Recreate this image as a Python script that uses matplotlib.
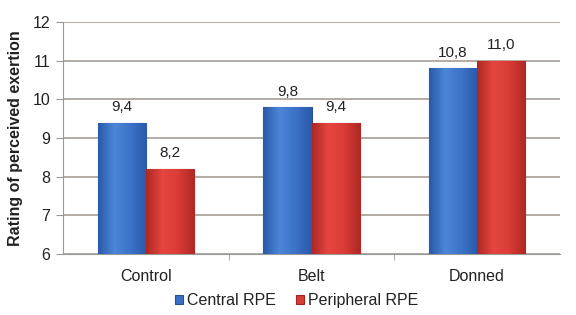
import matplotlib.pyplot as plt
import numpy as np
from matplotlib.colors import LinearSegmentedColormap

plt.rcParams['font.family'] = ['Liberation Sans', 'DejaVu Sans']

categories = ["Control", "Belt", "Donned"]
central = [9.4, 9.8, 10.8]
peripheral = [8.2, 9.4, 11.0]
central_labels = ["9,4", "9,8", "10,8"]
peripheral_labels = ["8,2", "9,4", "11,0"]

fig = plt.figure(figsize=(5.76, 3.15), dpi=100)
ax = fig.add_axes([63/576, 1-254/315, 497/576, 232/315])

x = np.arange(len(categories))
w = 0.29
b1 = ax.bar(x - w/2, np.array(central) - 6, w, bottom=6, color="#3B6FC6",
            edgecolor="#24509A", linewidth=0.8, label="Central RPE", zorder=3)
b2 = ax.bar(x + w/2, np.array(peripheral) - 6, w, bottom=6, color="#D93B36",
            edgecolor="#A02420", linewidth=0.8, label="Peripheral RPE", zorder=3)

# gradient shading on bars
cm_blue = LinearSegmentedColormap.from_list("b", ["#2A5AAA", "#4C86D8", "#3C72C8", "#2A5AAA"])
cm_red = LinearSegmentedColormap.from_list("r", ["#B02823", "#E5463F", "#D93B36", "#B02823"])
grad = np.linspace(0, 1, 64).reshape(1, -1)
for bars, cm in ((b1, cm_blue), (b2, cm_red)):
    for p in bars:
        x0, y0 = p.get_x(), p.get_y()
        im = ax.imshow(grad, cmap=cm, aspect="auto", zorder=3.5,
                       extent=(x0, x0 + p.get_width(), y0, y0 + p.get_height()))
        im.set_clip_path(p)

for xi, v, t in zip(x - w/2, central, central_labels):
    ax.text(xi, v + 0.22, t, ha="center", va="bottom", fontsize=11, color="#222222")
for xi, v, t in zip(x + w/2, peripheral, peripheral_labels):
    ax.text(xi, v + 0.22, t, ha="center", va="bottom", fontsize=11, color="#222222")

ax.set_xlim(-0.5, 2.5)
ax.set_ylim(6, 12)
ax.set_yticks(range(6, 13))
ax.set_xticks(x)
ax.set_xticklabels(categories, fontsize=11.5, color="#222222")
ax.set_xticks([0.5, 1.5], minor=True)
ax.tick_params(axis="x", which="major", length=0, pad=11)
ax.tick_params(axis="x", which="minor", length=4, color="#999999")
ax.tick_params(axis="y", length=5, color="#999999", labelsize=11.5, pad=4, labelcolor="#222222")
ax.grid(axis="y", color="#ADA59D", linewidth=1.3, zorder=0)
for s in ["top", "right"]:
    ax.spines[s].set_visible(False)
ax.spines["left"].set_color("#999999")
ax.spines["bottom"].set_color("#999999")
ax.set_ylabel("Rating of perceived exertion", fontsize=11.5, fontweight="bold",
              labelpad=7, color="#222222")

leg = ax.legend(loc="upper center", bbox_to_anchor=(0.47, -0.105), ncol=2, frameon=False,
                fontsize=11.5, handlelength=0.5, handleheight=0.5, handletextpad=0.25,
                columnspacing=1.3)
for t in leg.get_texts():
    t.set_color("#222222")

fig.savefig("out.png", dpi=100)
